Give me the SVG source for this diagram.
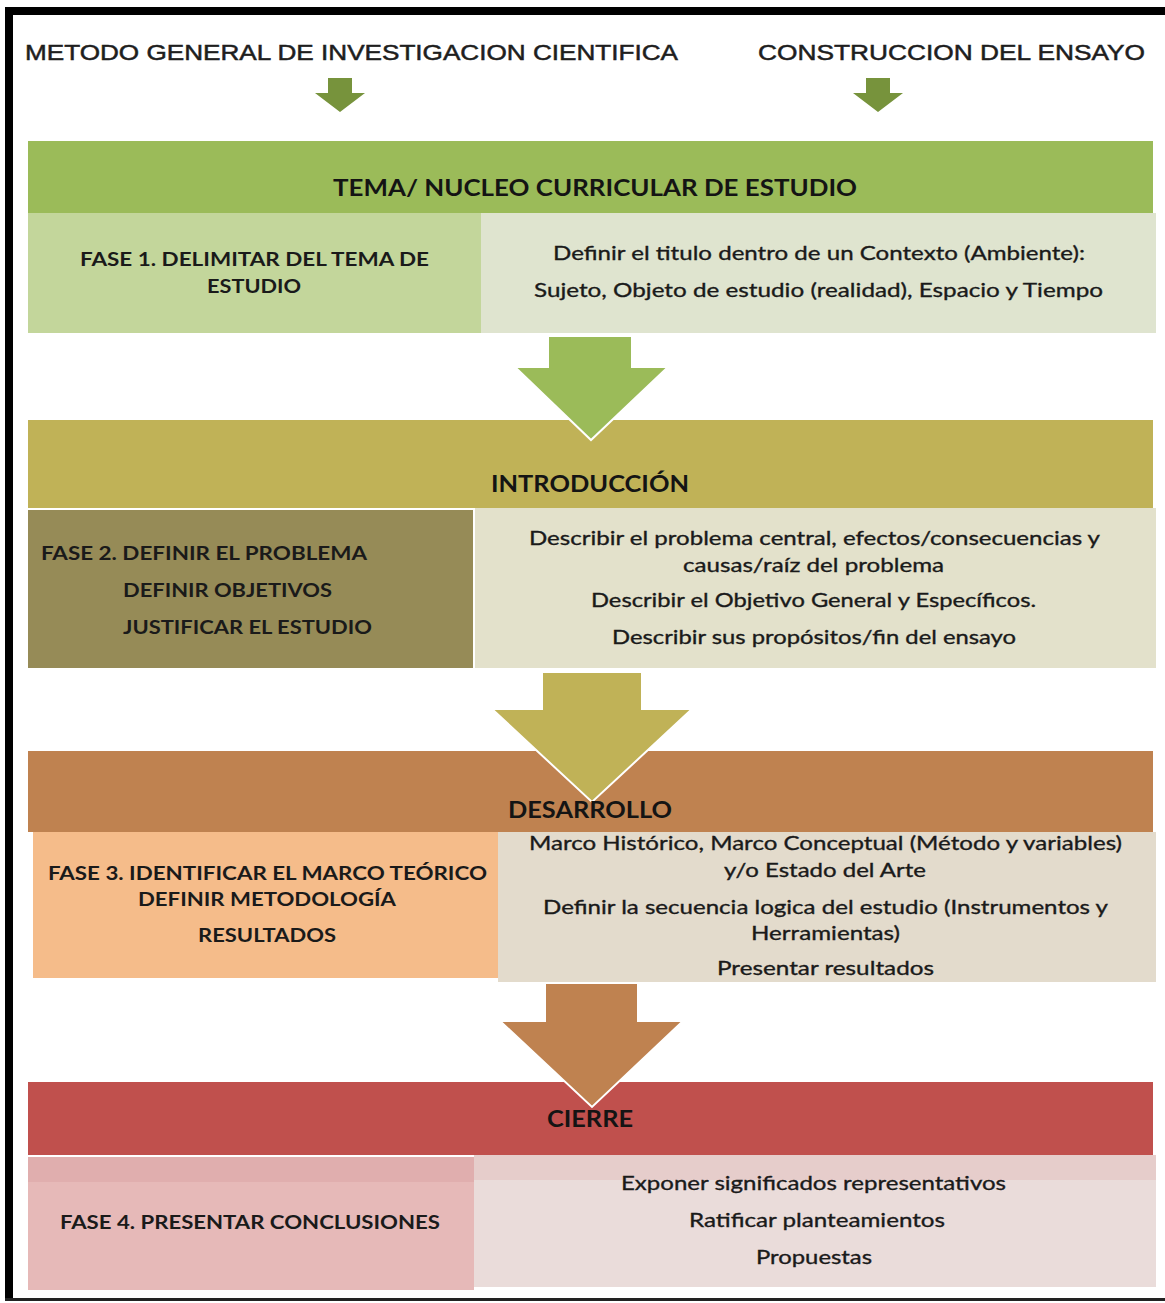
<svg xmlns="http://www.w3.org/2000/svg" width="1165" height="1303" viewBox="0 0 1165 1303">
<defs>
<style>
.hdr{font-family:"Liberation Sans",Arial,sans-serif;font-size:22px;fill:#1e1e1e;stroke:#1e1e1e;stroke-width:0.5;text-anchor:start}
.band{font-family:Lato,"Open Sans",sans-serif;font-weight:bold;font-size:23px;fill:#141414;text-anchor:middle}
.ph{font-family:Lato,"Open Sans",sans-serif;font-weight:bold;font-size:19px;fill:#1a1a1a;text-anchor:middle}
.phl{font-family:Lato,"Open Sans",sans-serif;font-weight:bold;font-size:19px;fill:#1a1a1a;text-anchor:start}
.ds{font-family:Lato,"Open Sans",sans-serif;font-size:20px;fill:#1a1a1a;stroke:#1a1a1a;stroke-width:0.35;text-anchor:middle}
.big{stroke:#ffffff;stroke-width:2;stroke-linejoin:miter}
</style>
</defs>
<rect x="0" y="0" width="1165" height="1303" fill="#ffffff"/>
<g id="frame">
<rect x="5" y="7" width="1160" height="8" fill="#000"/>
<rect x="5" y="7" width="8" height="1294" fill="#000"/>
<rect x="5" y="1298" width="1160" height="3" fill="#222"/>
</g>
<g id="hdr-metodo">
<text class="hdr" x="25" y="60" textLength="653" lengthAdjust="spacingAndGlyphs">METODO GENERAL DE INVESTIGACION CIENTIFICA</text>
</g>
<g id="hdr-ensayo">
<text class="hdr" x="758" y="60" textLength="387" lengthAdjust="spacingAndGlyphs">CONSTRUCCION DEL ENSAYO</text>
</g>
<g id="tema">
<rect x="28" y="141" width="1125" height="72" fill="#9BBB59"/>
<text class="band" x="595" y="196" textLength="524" lengthAdjust="spacingAndGlyphs">TEMA/ NUCLEO CURRICULAR DE ESTUDIO</text>
</g>
<g id="fase1">
<rect x="28" y="213" width="453" height="120" fill="#C3D69B"/>
<text class="ph" x="254.5" y="266" textLength="349" lengthAdjust="spacingAndGlyphs">FASE 1. DELIMITAR DEL TEMA DE</text>
<text class="ph" x="254" y="293" textLength="94" lengthAdjust="spacingAndGlyphs">ESTUDIO</text>
</g>
<g id="desc1">
<rect x="481" y="213" width="675" height="120" fill="#DFE4CF"/>
<text class="ds" x="819" y="260" textLength="532" lengthAdjust="spacingAndGlyphs">Definir el titulo dentro de un Contexto (Ambiente):</text>
<text class="ds" x="818.5" y="297" textLength="569" lengthAdjust="spacingAndGlyphs">Sujeto, Objeto de estudio (realidad), Espacio y Tiempo</text>
</g>
<g id="introduccion">
<rect x="28" y="420" width="1125" height="88" fill="#C0B257"/>
<text class="band" x="590" y="492" textLength="198" lengthAdjust="spacingAndGlyphs">INTRODUCCIÓN</text>
</g>
<g id="fase2">
<rect x="28" y="510" width="445" height="158" fill="#968B57"/>
<text class="phl" x="41" y="560" textLength="326" lengthAdjust="spacingAndGlyphs">FASE 2. DEFINIR EL PROBLEMA</text>
<text class="phl" x="123" y="597" textLength="209" lengthAdjust="spacingAndGlyphs">DEFINIR OBJETIVOS</text>
<text class="phl" x="123" y="634" textLength="249" lengthAdjust="spacingAndGlyphs">JUSTIFICAR EL ESTUDIO</text>
</g>
<g id="desc2">
<rect x="475" y="508" width="681" height="160" fill="#E3E1CB"/>
<text class="ds" x="814.5" y="545" textLength="571" lengthAdjust="spacingAndGlyphs">Describir el problema central, efectos/consecuencias y</text>
<text class="ds" x="813.5" y="572" textLength="261" lengthAdjust="spacingAndGlyphs">causas/raíz del problema</text>
<text class="ds" x="813.5" y="607" textLength="445" lengthAdjust="spacingAndGlyphs">Describir el Objetivo General y Específicos.</text>
<text class="ds" x="814" y="644" textLength="404" lengthAdjust="spacingAndGlyphs">Describir sus propósitos/fin del ensayo</text>
</g>
<g id="desarrollo">
<rect x="28" y="751" width="1125" height="81" fill="#BF8250"/>
</g>
<g id="fase3">
<rect x="33" y="832" width="465" height="146" fill="#F5BC8A"/>
<text class="ph" x="267.5" y="880" textLength="439" lengthAdjust="spacingAndGlyphs">FASE 3. IDENTIFICAR EL MARCO TEÓRICO</text>
<text class="ph" x="267" y="906" textLength="258" lengthAdjust="spacingAndGlyphs">DEFINIR METODOLOGÍA</text>
<text class="ph" x="267" y="942" textLength="138" lengthAdjust="spacingAndGlyphs">RESULTADOS</text>
</g>
<g id="desc3">
<rect x="498" y="832" width="658" height="150" fill="#E3DBCC"/>
<text class="ds" x="825.5" y="850" textLength="593" lengthAdjust="spacingAndGlyphs">Marco Histórico, Marco Conceptual (Método y variables)</text>
<text class="ds" x="825" y="877" textLength="202" lengthAdjust="spacingAndGlyphs">y/o Estado del Arte</text>
<text class="ds" x="825.5" y="914" textLength="565" lengthAdjust="spacingAndGlyphs">Definir la secuencia logica del estudio (Instrumentos y</text>
<text class="ds" x="825.5" y="940" textLength="149" lengthAdjust="spacingAndGlyphs">Herramientas)</text>
<text class="ds" x="825.5" y="975" textLength="217" lengthAdjust="spacingAndGlyphs">Presentar resultados</text>
</g>
<g id="cierre">
<rect x="28" y="1082" width="1125" height="73" fill="#C0504D"/>
</g>
<g id="fase4">
<rect x="28" y="1157" width="446" height="133" fill="#E6B9B8"/>
<rect x="28" y="1157" width="446" height="25" fill="#E0AEAE"/>
<text class="ph" x="250" y="1229" textLength="380" lengthAdjust="spacingAndGlyphs">FASE 4. PRESENTAR CONCLUSIONES</text>
</g>
<g id="desc4">
<rect x="474" y="1155" width="682" height="132" fill="#EADCDA"/>
<rect x="474" y="1155" width="682" height="25" fill="#E6CDCB"/>
<text class="ds" x="813.5" y="1190" textLength="385" lengthAdjust="spacingAndGlyphs">Exponer significados representativos</text>
<text class="ds" x="817" y="1227" textLength="256" lengthAdjust="spacingAndGlyphs">Ratificar planteamientos</text>
<text class="ds" x="814" y="1264" textLength="116" lengthAdjust="spacingAndGlyphs">Propuestas</text>
</g>
<g id="connectors">
<polygon fill="#77933C" points="328,78 352,78 352,93 365,93 340,112 315,93 328,93"/>
<polygon fill="#77933C" points="866,78 890,78 890,93 903,93 878,112 853,93 866,93"/>
<polygon class="big" fill="#9BBB59" points="548,336 632,336 632,367 668,367 591,440 515,367 548,367"/>
<polygon class="big" fill="#C0B257" points="542,672 642,672 642,709 692,709 592,802 492,709 542,709"/>
<polygon class="big" fill="#BF8250" points="545,983 638,983 638,1021 683,1021 592,1107 500,1021 545,1021"/>
</g>
<g id="band-labels">
<text class="band" x="590" y="818" textLength="164" lengthAdjust="spacingAndGlyphs">DESARROLLO</text>
<text class="band" x="590" y="1127" textLength="86" lengthAdjust="spacingAndGlyphs">CIERRE</text>
</g>
</svg>
